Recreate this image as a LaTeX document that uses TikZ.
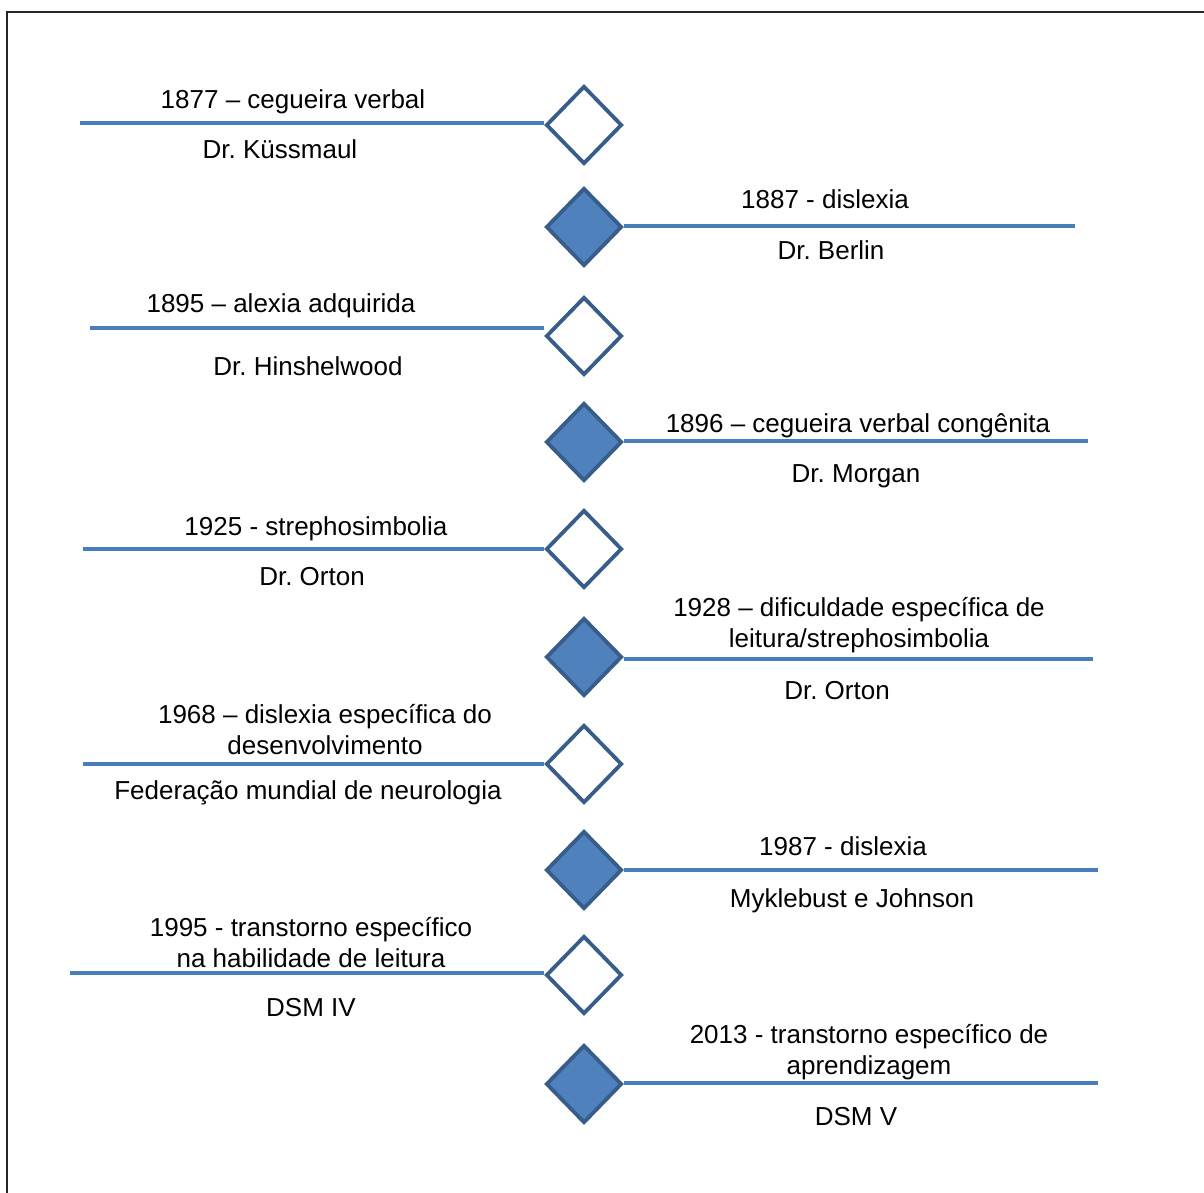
\documentclass[tikz,border=0pt]{standalone}
\usepackage{fontspec}
\setmainfont{Liberation Sans}
\frenchspacing
\usetikzlibrary{shapes.geometric}
\definecolor{lineblue}{HTML}{4A7EBB}
\definecolor{markfill}{HTML}{4F81BD}
\definecolor{markedge}{HTML}{385D8A}
\tikzset{
    openmark/.style={diamond, draw=markedge, fill=white, line width=1.9pt,
        inner sep=0pt, minimum width=38pt, minimum height=39pt},
    fullmark/.style={openmark, fill=markfill},
    tline/.style={draw=lineblue, line width=2pt},
    lbl/.style={font=\fontsize{13}{15.5}\selectfont, inner sep=0pt,
        text height=9.4pt, text depth=0pt},
    lbltwo/.style={font=\fontsize{13}{15.5}\selectfont, inner sep=0pt,
        align=center, anchor=north}
}
\begin{document}
\begin{tikzpicture}[x=0.5pt,y=-0.5pt]
    \useasboundingbox (0,0) rectangle (1204,1193);
    \draw[line width=1.4pt, black!85] (1204,12) -- (7,12) -- (7,1193);
    % marcos
    \node[openmark] (m1877) at (584,125) {};
    \node[fullmark] (m1887) at (584,227) {};
    \node[openmark] (m1895) at (584,336) {};
    \node[fullmark] (m1896) at (584,442) {};
    \node[openmark] (m1925) at (584,549) {};
    \node[fullmark] (m1928) at (584,657) {};
    \node[openmark] (m1968) at (584,764) {};
    \node[fullmark] (m1987) at (584,870) {};
    \node[openmark] (m1995) at (584,975) {};
    \node[fullmark] (m2013) at (584,1084) {};
    % linhas
    \coordinate (e1877) at (80,123);
    \coordinate (e1887) at (1075,226);
    \coordinate (e1895) at (90,328);
    \coordinate (e1896) at (1088,441);
    \coordinate (e1925) at (83,549);
    \coordinate (e1928) at (1093,659);
    \coordinate (e1968) at (83,764);
    \coordinate (e1987) at (1098,870);
    \coordinate (e1995) at (70,973);
    \coordinate (e2013) at (1098,1083);
    \draw[tline] (e1877) -- (m1877.west |- e1877);
    \draw[tline] (m1887.east |- e1887) -- (e1887);
    \draw[tline] (e1895) -- (m1895.west |- e1895);
    \draw[tline] (m1896.east |- e1896) -- (e1896);
    \draw[tline] (e1925) -- (m1925.west |- e1925);
    \draw[tline] (m1928.east |- e1928) -- (e1928);
    \draw[tline] (e1968) -- (m1968.west |- e1968);
    \draw[tline] (m1987.east |- e1987) -- (e1987);
    \draw[tline] (e1995) -- (m1995.west |- e1995);
    \draw[tline] (m2013.east |- e2013) -- (e2013);
    % textos
    \node[lbl] (t1877) at (293,99) {1877 – cegueira verbal};
    \node[lbl] (a1877) at (280,149) {Dr. Küssmaul};
    \node[lbl] (t1887) at (825,199) {1887 - dislexia};
    \node[lbl] (a1887) at (831,250) {Dr. Berlin};
    \node[lbl] (t1895) at (281,303) {1895 – alexia adquirida};
    \node[lbl] (a1895) at (308,366) {Dr. Hinshelwood};
    \node[lbl] (t1896) at (858,423) {1896 – cegueira verbal congênita};
    \node[lbl] (a1896) at (856,473) {Dr. Morgan};
    \node[lbl] (t1925) at (316,526) {1925 - strephosimbolia};
    \node[lbl] (a1925) at (312,576) {Dr. Orton};
    \node[lbltwo] (t1928) at (859,597) {1928 – dificuldade específica de\\leitura/strephosimbolia};
    \node[lbl] (a1928) at (837,690) {Dr. Orton};
    \node[lbltwo] (t1968) at (325,704) {1968 – dislexia específica do\\desenvolvimento};
    \node[lbl] (a1968) at (308,790) {Federação mundial de neurologia};
    \node[lbl] (t1987) at (843,846) {1987 - dislexia};
    \node[lbl] (a1987) at (852,898) {Myklebust e Johnson};
    \node[lbltwo] (t1995) at (311,917) {1995 - transtorno específico\\na habilidade de leitura};
    \node[lbl] (a1995) at (311,1007) {DSM IV};
    \node[lbltwo] (t2013) at (869,1024) {2013 - transtorno específico de\\aprendizagem};
    \node[lbl] (a2013) at (856,1116) {DSM V};
\end{tikzpicture}
\end{document}
